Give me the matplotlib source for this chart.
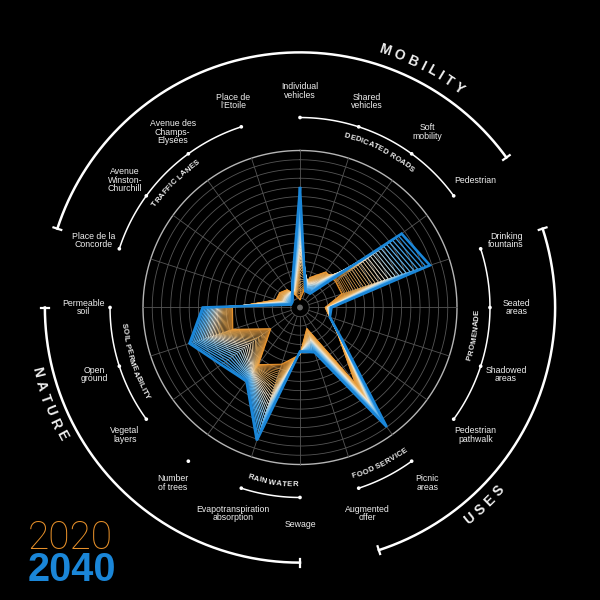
import numpy as np
import matplotlib
matplotlib.use("Agg")
import matplotlib.pyplot as plt
from matplotlib.font_manager import FontProperties
from matplotlib.colors import LinearSegmentedColormap

# ---------------- data ----------------
categories = ["Individual\nvehicles", "Shared\nvehicles", "Soft\nmobility", "Pedestrian",
              "Drinking\nfountains", "Seated\nareas", "Shadowed\nareas", "Pedestrian\npathwalk",
              "Picnic\nareas", "Augmented\noffer", "Sewage", "Evapotranspiration\nabsorption",
              "Number\nof trees", "Vegetal\nlayers", "Open\nground", "Permeable\nsoil",
              "Place de la\nConcorde", "Avenue\nWinston-\nChurchill", "Avenue des\nChamps-\nElysées",
              "Place de\nl\u2019Etoile"]
values_2020 = [5, 20, 28, 28, 28, 16, 20, 30, 60, 14, 30, 38, 45, 23, 45, 43, 16, 16, 14, 8]
values_2040 = [76, 11, 11, 80, 87, 20, 20, 32, 94, 30, 28, 89, 58, 62, 74, 62, 6, 6, 8, 16]
group_names = ["DEDICATED ROADS", "PROMENADE", "FOOD SERVICE", "RAIN WATER", "",
               "SOIL PERMEABILITY", "TRAFFIC LANES"]
group_first = [0, 4, 8, 10, 12, 13, 16]
group_last = [3, 7, 9, 11, 12, 15, 19]
theme_names = ["MOBILITY", "USES", "NATURE"]
theme_first = [16, 4, 10]
theme_last = [3, 9, 15]
year_labels = ["2020", "2040"]

# ---------------- style ----------------
BG = "black"
ORANGE = "#e8912a"
BLUE = "#1a86d8"
TXT = "#eeeeee"
PX = 1.57          # pixels per value unit
RMAX = 185
N_STEPS = 30
FAMILY = ["Liberation Sans", "DejaVu Sans"]

fig = plt.figure(figsize=(6, 6), dpi=100, facecolor=BG)
cx, cy = 300, 600 - 307.5
half = RMAX * PX
ax = fig.add_axes([(cx - half) / 600, (cy - half) / 600, 2 * half / 600, 2 * half / 600],
                  projection="polar")
ax.set_facecolor(BG)
ax.set_theta_zero_location("N")
ax.set_theta_direction(-1)
ax.set_ylim(0, RMAX)
ax.grid(False)
ax.set_xticks([])
ax.set_yticks([])
ax.spines["polar"].set_visible(False)

n = len(categories)
angles_deg = np.arange(n) * 360.0 / n
angles = np.deg2rad(angles_deg)

# grid
circ = np.linspace(0, 2 * np.pi, 400)
n_rings = 17
for k in range(1, n_rings + 1):
    rr = 100.0 * k / n_rings
    if k == n_rings:
        ax.plot(circ, np.full_like(circ, rr), color="#b5b5b5", lw=1.0, zorder=1)
    else:
        ax.plot(circ, np.full_like(circ, rr), color="#555555", lw=0.6, zorder=1)
for a in angles:
    ax.plot([a, a], [100.0 / n_rings, 100], color="#555555", lw=0.6, zorder=1)
ax.scatter([0], [0], s=18, color="#666666", zorder=1, edgecolors="none")

# interpolated polygons from 2020 to 2040
cmap = LinearSegmentedColormap.from_list(
    "morph", [(0.0, ORANGE), (0.4, "#f0b866"), (0.6, "#f4ead6"), (0.8, "#6fbcef"), (1.0, BLUE)])
v20 = np.array(values_2020, float)
v40 = np.array(values_2040, float)
closed = np.append(angles, angles[0])
for j in range(N_STEPS + 1):
    s = j / N_STEPS
    t = s ** 1.4
    vals = v20 + (v40 - v20) * t
    vals = np.append(vals, vals[0])
    if j == N_STEPS:
        lw = 1.9
    elif j == 0:
        lw = 0.8
    else:
        lw = 0.45 + 0.55 * s ** 2
    ax.plot(closed, vals, color=cmap(s), lw=lw, zorder=2 + s, solid_joinstyle="miter")

# ---------------- curved text helper ----------------
renderer = fig.canvas.get_renderer()


def text_w(s, fp):
    return renderer.get_text_width_height_descent(s, fp, ismath=False)[0]


def char_adv(ch, fp):
    if ch == " ":
        return text_w("a a", fp) - text_w("aa", fp)
    return text_w(ch, fp)


def curved_text(s, theta_c, r_units, size, weight="bold", color=TXT, tracking=0.0):
    fp = FontProperties(family=FAMILY, size=size, weight=weight)
    advs = [char_adv(ch, fp) for ch in s]
    total = sum(advs) + tracking * (len(s) - 1)
    r_px = r_units * PX
    bottom = 90 < (theta_c % 360) < 270
    left = 0.0
    for ch, adv in zip(s, advs):
        off = left + adv / 2 - total / 2
        left += adv + tracking
        if ch == " ":
            continue
        d = np.rad2deg(off / r_px)
        th = theta_c - d if bottom else theta_c + d
        rot = 180 - th if bottom else -th
        ax.text(np.deg2rad(th), r_units, ch, rotation=rot, rotation_mode="anchor",
                ha="center", va="center", fontproperties=fp, color=color, clip_on=False, zorder=5)


# ---------------- category labels, group arcs ----------------
R_DOT = 121
R_LAB = 138
R_GRP = 113
for i, lab in enumerate(categories):
    ax.text(angles[i], R_LAB, lab, ha="center", va="center", color=TXT, fontsize=6.3,
            family=FAMILY, linespacing=0.95, clip_on=False, zorder=5)

for name, a0, a1 in zip(group_names, group_first, group_last):
    t0, t1 = angles_deg[a0], angles_deg[a1]
    if a1 > a0:
        arc = np.deg2rad(np.linspace(t0, t1, 100))
        ax.plot(arc, np.full_like(arc, R_DOT), color="white", lw=1.1, zorder=4, clip_on=False)
    ax.scatter(angles[a0:a1 + 1], np.full(a1 - a0 + 1, R_DOT), s=7, color="white",
               zorder=5, clip_on=False, edgecolors="none")
    if name:
        curved_text(name, (t0 + t1) / 2, R_GRP, 5.6, tracking=0.2)

# ---------------- theme arcs ----------------
R_TH = 162.5
theme_text_angle = [27, 137, 249]
for name, a0, a1, ta in zip(theme_names, theme_first, theme_last, theme_text_angle):
    t0 = angles_deg[a0]
    t1 = angles_deg[a1]
    if t1 < t0:
        t1 += 360
    arc = np.deg2rad(np.linspace(t0, t1, 300))
    ax.plot(arc, np.full_like(arc, R_TH), color="white", lw=1.8, zorder=4, clip_on=False)
    for te in (t0, t1):
        ax.plot([np.deg2rad(te)] * 2, [R_TH - 2.6, R_TH + 2.6], color="white", lw=1.6,
                zorder=4, clip_on=False)
    curved_text(name, ta, 172.5, 10, tracking=4.0)

# ---------------- year legend ----------------
fig.text(28 / 600, 51 / 600, year_labels[0], color=ORANGE, fontsize=28,
         family=["Roboto", "Lato", "DejaVu Sans"], weight=200, ha="left", va="baseline")
fig.text(28 / 600, 19 / 600, year_labels[1], color=BLUE, fontsize=28.5,
         family=FAMILY, weight="bold", ha="left", va="baseline")

fig.savefig("out.png", dpi=100, facecolor=BG)
